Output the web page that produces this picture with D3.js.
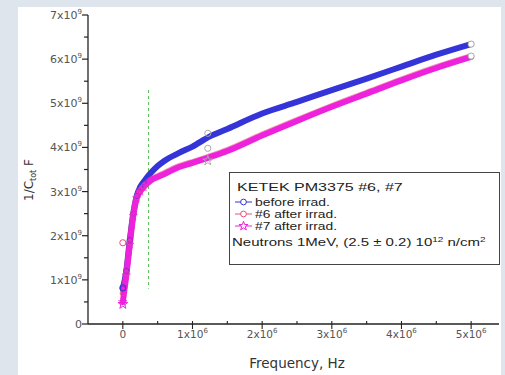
<!DOCTYPE html>
<html>
<head>
<meta charset="utf-8">
<script src="https://cdn.jsdelivr.net/npm/d3@7"></script>
<style>
  body { margin: 0; background: #dfe5ed; }
  svg { display: block; font-family: "DejaVu Sans", Arial, sans-serif; }
</style>
</head>
<body>
<div id="chart"></div>
<script>
// frequency in units of 1e6 Hz, 1/C in units of 1e9
const freq = [0, 0.05, 0.1, 0.15, 0.2, 0.25, 0.3, 0.4, 0.5, 0.6, 0.8, 1.0, 1.25, 1.5, 2.0, 2.5, 3.0, 3.5, 4.0, 4.5, 5.0];
const before = [0.8, 1.2, 1.9, 2.5, 2.9, 3.1, 3.22, 3.42, 3.58, 3.7, 3.87, 4.02, 4.25, 4.42, 4.77, 5.03, 5.3, 5.56, 5.83, 6.1, 6.34];
const after6 = [0.7, 1.15, 1.85, 2.5, 2.88, 3.03, 3.13, 3.27, 3.35, 3.42, 3.57, 3.67, 3.8, 3.94, 4.29, 4.62, 4.94, 5.24, 5.54, 5.82, 6.07];
const after7 = [0.5, 1.1, 1.8, 2.45, 2.85, 3.0, 3.1, 3.25, 3.33, 3.4, 3.55, 3.65, 3.78, 3.92, 4.27, 4.6, 4.92, 5.22, 5.52, 5.8, 6.05];
// stray points off the bands
const strays = [
  { s: "before", f: 0, v: 0.82 }, { s: "after6", f: 0, v: 1.84 }, { s: "after7", f: 0, v: 0.45 },
  { s: "before", f: 1.22, v: 4.32 }, { s: "after6", f: 1.22, v: 3.98 }, { s: "after7", f: 1.22, v: 3.7 },
  { s: "before", f: 5.0, v: 6.34 }, { s: "after6", f: 5.0, v: 6.07 }
];
const yTicks = [0, 1, 2, 3, 4, 5, 6, 7];
const xTicks = [0, 1, 2, 3, 4, 5];
const legendTitle = "KETEK PM3375 #6, #7";
const seriesNames = ["before irrad.", "#6 after irrad.", "#7 after irrad."];
const markerLine = 0.37;

const width = 505, height = 375;
const svg = d3.select("#chart").append("svg").attr("width", width).attr("height", height);

svg.append("rect").attr("x", 18).attr("y", 7).attr("width", 483).attr("height", 368).attr("fill", "#fff");

const x = d3.scaleLinear().domain([-0.5, 5.4]).range([88, 499]);
const y = d3.scaleLinear().domain([0, 7]).range([324, 15]);

const axisColor = "#222";
const labelColor = "#555";

// y axis
svg.append("line").attr("x1", 88).attr("x2", 88).attr("y1", y(7)).attr("y2", y(0))
  .attr("stroke", axisColor).attr("stroke-width", 1.3);
d3.range(0, 7.01, 0.5).forEach(t => {
  const major = Number.isInteger(t);
  svg.append("line").attr("x1", 88 - (major ? 6 : 4)).attr("x2", 88)
    .attr("y1", y(t)).attr("y2", y(t)).attr("stroke", axisColor).attr("stroke-width", 1.2);
});
yTicks.forEach(t => {
  const txt = svg.append("text").attr("x", 82).attr("y", y(t) + 4)
    .attr("text-anchor", "end").attr("font-size", 11).attr("fill", labelColor);
  if (t === 0) { txt.text("0"); return; }
  txt.append("tspan").text(t + "x10");
  txt.append("tspan").attr("dy", -5).attr("font-size", 7).text("9");
});

// x axis
svg.append("line").attr("x1", 88).attr("x2", 499).attr("y1", y(0)).attr("y2", y(0))
  .attr("stroke", axisColor).attr("stroke-width", 1.3);
d3.range(0, 5.41, 0.5).forEach(t => {
  const major = Number.isInteger(t);
  svg.append("line").attr("x1", x(t)).attr("x2", x(t))
    .attr("y1", y(0) - 3).attr("y2", y(0) + (major ? 5 : 0))
    .attr("stroke", axisColor).attr("stroke-width", 1.1);
});
xTicks.forEach(t => {
  const txt = svg.append("text").attr("x", x(t)).attr("y", 338)
    .attr("text-anchor", "middle").attr("font-size", 10.5).attr("fill", labelColor);
  if (t === 0) { txt.text("0"); return; }
  txt.append("tspan").text(t + "x10");
  txt.append("tspan").attr("dy", -5).attr("font-size", 7).text("6");
});

svg.append("text").attr("x", 297).attr("y", 368).attr("text-anchor", "middle")
  .attr("font-size", 13.5).attr("fill", "#333").text("Frequency, Hz");

const yl = svg.append("text").attr("transform", "translate(33,180) rotate(-90)")
  .attr("text-anchor", "middle").attr("font-size", 12).attr("fill", "#333");
yl.append("tspan").text("1/C");
yl.append("tspan").attr("dy", 3).attr("font-size", 8).text("tot");
yl.append("tspan").attr("dy", -3).text(" F");

// green dashed marker
svg.append("line").attr("x1", x(markerLine)).attr("x2", x(markerLine))
  .attr("y1", y(5.3)).attr("y2", y(0.8))
  .attr("stroke", "#52b852").attr("stroke-width", 1).attr("stroke-dasharray", "3,3");

const series = [
  { key: "before", vals: before, color: "#3434d8", sym: d3.symbolCircle },
  { key: "after6", vals: after6, color: "#e8507a", sym: d3.symbolCircle },
  { key: "after7", vals: after7, color: "#ee22dd", sym: d3.symbolStar }
];

const line = d3.line().x((d, i) => x(freq[i])).y(d => y(d)).curve(d3.curveMonotoneX);

series.forEach(s => {
  svg.append("path").datum(s.vals).attr("d", line).attr("fill", "none")
    .attr("stroke", s.color).attr("stroke-width", 6).attr("stroke-linecap", "round")
    .attr("stroke-opacity", s.key === "after6" ? 0.6 : 1);
});

// markers along the steep part
series.forEach(s => {
  freq.forEach((f, i) => {
    if (f > 0.3) return;
    svg.append("path").attr("d", d3.symbol().type(s.sym).size(22)())
      .attr("transform", `translate(${x(f)},${y(s.vals[i])})`)
      .attr("fill", "none").attr("stroke", s.color).attr("stroke-opacity", 0.6).attr("stroke-width", 1);
  });
});

strays.forEach(p => {
  const s = series.find(d => d.key === p.s);
  svg.append("path").attr("d", d3.symbol().type(s.sym).size(30)())
    .attr("transform", `translate(${x(p.f)},${y(p.v)})`)
    .attr("fill", p.f >= 5 ? "#fff" : "none")
    .attr("stroke", p.f > 1 ? "#aaa" : s.color).attr("stroke-width", 1);
});

// legend - the source font is wide, so each line is stretched to its width
const lg = svg.append("g");
lg.append("rect").attr("x", 229.5).attr("y", 172.5).attr("width", 270).attr("height", 92)
  .attr("fill", "#fff").attr("stroke", "#444").attr("stroke-width", 1);

function legendText(tx, ty, w) {
  const g = lg.append("g");
  const t = g.append("text").attr("font-family", "Arial, 'Liberation Sans', sans-serif")
    .attr("font-size", 10.5).attr("fill", "#222");
  return { g, t, fit() {
    const bw = t.node().getComputedTextLength();
    g.attr("transform", `translate(${tx},${ty}) scale(${w / bw},1)`);
  } };
}

const title = legendText(237, 191, 166);
title.t.text(legendTitle);
title.fit();

const nameWidths = [75, 82, 82];
series.forEach((s, i) => {
  const cy = 202 + i * 12;
  lg.append("line").attr("x1", 235).attr("x2", 252).attr("y1", cy).attr("y2", cy)
    .attr("stroke", s.color).attr("stroke-width", 1);
  lg.append("path").attr("d", d3.symbol().type(s.sym).size(26)())
    .attr("transform", `translate(243.5,${cy})`).attr("fill", "#fff").attr("stroke", s.color);
  const lt = legendText(255, cy + 4, nameWidths[i]);
  lt.t.text(seriesNames[i]);
  lt.fit();
});

const nt = legendText(232, 246, 254);
nt.t.append("tspan").text("Neutrons 1MeV, (2.5 \u00b1 0.2) 10");
nt.t.append("tspan").attr("dy", -4).attr("font-size", 7).text("12");
nt.t.append("tspan").attr("dy", 4).text(" n/cm");
nt.t.append("tspan").attr("dy", -4).attr("font-size", 7).text("2");
nt.fit();
</script>
</body>
</html>
